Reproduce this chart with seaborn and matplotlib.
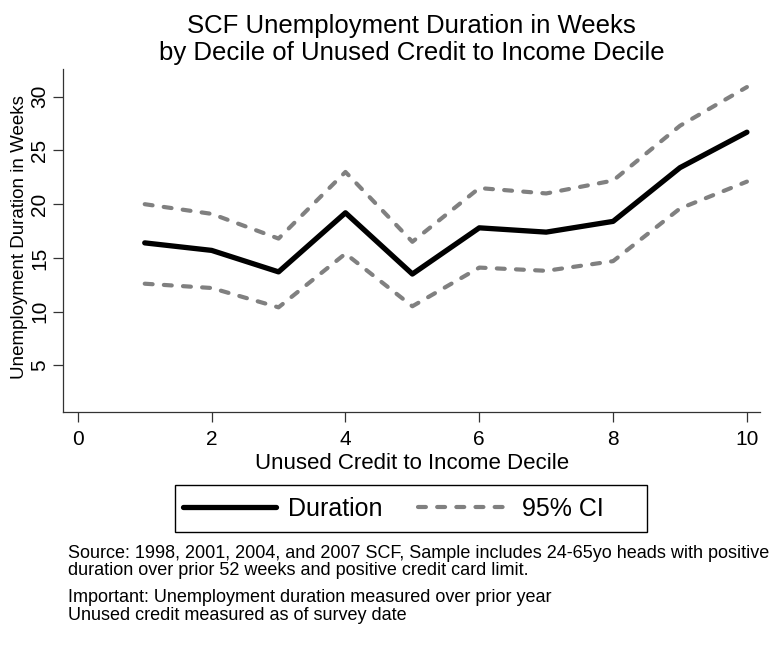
import pandas as pd
import matplotlib.pyplot as plt
import seaborn as sns
from matplotlib.patches import Rectangle

# Values
decile = [1, 2, 3, 4, 5, 6, 7, 8, 9, 10]
duration = [16.4, 15.7, 13.7, 19.2, 13.5, 17.8, 17.4, 18.4, 23.4, 26.7]
ci_upper = [20.0, 19.1, 16.8, 23.0, 16.5, 21.5, 21.0, 22.2, 27.3, 30.9]
ci_lower = [12.6, 12.2, 10.4, 15.4, 10.5, 14.1, 13.8, 14.7, 19.6, 22.1]

x_ticks = [0, 2, 4, 6, 8, 10]
y_ticks = [5, 10, 15, 20, 25, 30]

df = pd.DataFrame({'decile': decile, 'duration': duration,
                   'upper': ci_upper, 'lower': ci_lower})

sns.set_style('white', {'text.color': 'black', 'axes.labelcolor': 'black',
                        'xtick.color': 'black', 'ytick.color': 'black'})
plt.rcParams['font.family'] = ['Liberation Sans', 'DejaVu Sans']

W, H = 779, 649
fig = plt.figure(figsize=(W / 100, H / 100), dpi=100)
ax = fig.add_axes([0.081, 0.365, 0.895, 0.529])

dash = (0, (1.9, 2.7))
sns.lineplot(data=df, x='decile', y='upper', ax=ax, color='#808080',
             linewidth=3.0, linestyle=dash, dash_capstyle='round', label='95% CI')
sns.lineplot(data=df, x='decile', y='lower', ax=ax, color='#808080',
             linewidth=3.0, linestyle=dash, dash_capstyle='round', label='_nolegend_')
sns.lineplot(data=df, x='decile', y='duration', ax=ax, color='black',
             linewidth=3.8, solid_capstyle='round', label='Duration')

ax.set_xlim(-0.22, 10.2)
ax.set_ylim(0.65, 32.6)
ax.set_xticks(x_ticks)
ax.set_yticks(y_ticks)
ax.tick_params(axis='both', direction='out', length=7, width=0.9,
               color='#333333', labelcolor='black', labelsize=15,
               left=True, bottom=True, pad=3)
ax.tick_params(axis='x', pad=6)
for lab in ax.get_yticklabels():
    lab.set_rotation(90)
    lab.set_va('center')

sns.despine(ax=ax)
for side in ['left', 'bottom']:
    ax.spines[side].set_color('#333333')
    ax.spines[side].set_linewidth(0.9)

ax.set_xlabel('Unused Credit to Income Decile', fontsize=16, labelpad=3)
ax.set_ylabel('Unemployment Duration in Weeks', fontsize=13.5)
ax.yaxis.set_label_coords(-0.05, 0.51)
ax.set_title('SCF Unemployment Duration in Weeks\nby Decile of Unused Credit to Income Decile',
             fontsize=18.5, linespacing=1.2, pad=6, color='black')

handles, labels = ax.get_legend_handles_labels()
order = [labels.index('Duration'), labels.index('95% CI')]
ax.legend([handles[i] for i in order], [labels[i] for i in order],
          ncol=2, loc='center left', bbox_to_anchor=(183 / W, 1 - 509 / H),
          bbox_transform=fig.transFigure, fontsize=18, handlelength=3.7,
          handletextpad=0.5, columnspacing=1.4, frameon=False,
          borderpad=0, borderaxespad=0, labelcolor='black')

# legend box (wider on the right, as in the reference)
fig.patches.append(Rectangle((175 / W, 1 - 532 / H), 472 / W, 47 / H,
                             transform=fig.transFigure, fill=False,
                             edgecolor='black', linewidth=1.0))

notes = ('Source: 1998, 2001, 2004, and 2007 SCF, Sample includes 24-65yo heads with positive\n'
         'duration over prior 52 weeks and positive credit card limit.')
notes2 = ('Important: Unemployment duration measured over prior year\n'
          'Unused credit measured as of survey date')
fig.text(0.087, 0.161, notes, fontsize=13.0, va='top', linespacing=1.02)
fig.text(0.087, 0.092, notes2, fontsize=13.0, va='top', linespacing=1.02)

fig.savefig('out.png', dpi=100, facecolor='white')
